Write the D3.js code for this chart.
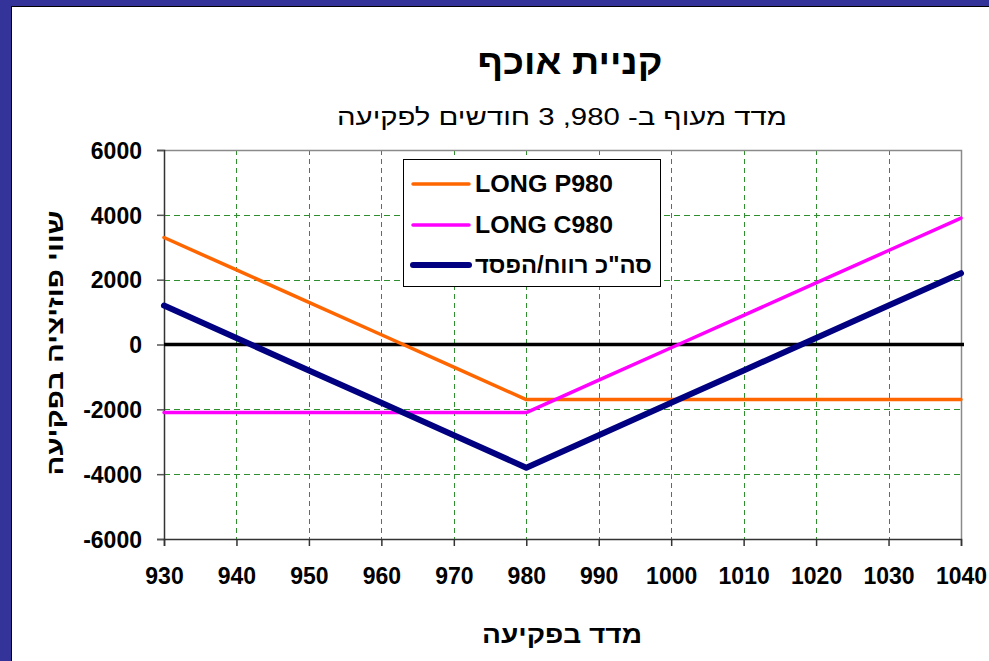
<!DOCTYPE html>
<html>
<head>
<meta charset="utf-8">
<script src="https://cdn.jsdelivr.net/npm/d3@7"></script>
<style>
  html, body { margin: 0; padding: 0; background: #fff; }
  svg { display: block; }
  text { font-family: "Liberation Sans", Arial, sans-serif; fill: #000; }
</style>
</head>
<body>
<svg id="chart" width="989" height="661"></svg>
<script>
// ---- data ----
const strikes = [930, 940, 950, 960, 970, 980, 990, 1000, 1010, 1020, 1030, 1040];
const longPut = [3300, 2300, 1300, 300, -700, -1700, -1700, -1700, -1700, -1700, -1700, -1700];
const longCall = [-2100, -2100, -2100, -2100, -2100, -2100, -1100, -100, 900, 1900, 2900, 3900];
const totalPL = [1200, 200, -800, -1800, -2800, -3800, -2800, -1800, -800, 200, 1200, 2200];
const yTicks = [-6000, -4000, -2000, 0, 2000, 4000, 6000];
const seriesNames = ["LONG P980", "LONG C980", "סה\"כ רווח/הפסד"];
const titleText = "קניית אוכף";
const subtitleText = "מדד מעוף ב- 980, 3 חודשים לפקיעה";
const xTitleText = "מדד בפקיעה";
const yTitleText = "שווי פוזיציה בפקיעה";

const svg = d3.select("#chart");
const W = 989, H = 661;
const L = 164, R = 961, T = 150, B = 539;

// frame
svg.append("rect").attr("x", 0).attr("y", 0).attr("width", W).attr("height", H).attr("fill", "#333399");
svg.append("rect").attr("x", 11).attr("y", 6).attr("width", W - 11).attr("height", H - 6).attr("fill", "#000");
svg.append("rect").attr("x", 12).attr("y", 7).attr("width", W - 12).attr("height", H - 7).attr("fill", "#fff");

const x = d3.scaleLinear().domain([930, 1040]).range([L, R]);
const y = d3.scaleLinear().domain([-6000, 6000]).range([B, T]);

// gridlines
const grid = svg.append("g").attr("shape-rendering", "crispEdges");
grid.selectAll("line.h").data(yTicks.filter(v => v !== 0 && v !== 6000 && v !== -6000)).enter()
  .append("line").attr("x1", L).attr("x2", R)
  .attr("y1", d => Math.round(y(d)) + 0.5).attr("y2", d => Math.round(y(d)) + 0.5)
  .attr("stroke", "#2f8f2f").attr("stroke-width", 1).attr("stroke-dasharray", "6,4");
grid.selectAll("line.v").data(strikes.filter(v => v !== 930 && v !== 1040)).enter()
  .append("line").attr("y1", T).attr("y2", B)
  .attr("x1", d => Math.round(x(d)) + 0.5).attr("x2", d => Math.round(x(d)) + 0.5)
  .attr("stroke", "#2f8f2f").attr("stroke-width", 1).attr("stroke-dasharray", "5,4");

// plot border (top/right grey)
svg.append("path")
  .attr("d", `M${L},${T + 0.5}H${R + 0.5}V${B}`)
  .attr("fill", "none").attr("stroke", "#8a8a8a").attr("stroke-width", 1.5);

// axes
const yAxis = d3.axisLeft(y).tickValues(yTicks).tickSize(7).tickFormat(d => String(d));
const gy = svg.append("g").attr("transform", `translate(${L},0)`).call(yAxis);
gy.select(".domain").attr("stroke", "#333").attr("stroke-width", 1.5);
gy.selectAll(".tick line").attr("stroke", "#555").attr("stroke-width", 1.5);
gy.selectAll(".tick text").attr("x", -22).attr("dy", "0.36em")
  .style("font-size", "23px").style("font-weight", "bold").style("font-family", "'Liberation Sans', Arial, sans-serif").attr("fill", "#000");

const xAxis = d3.axisBottom(x).tickValues(strikes).tickSize(7).tickFormat(d => String(d));
const gx = svg.append("g").attr("transform", `translate(0,${B})`).call(xAxis);
gx.select(".domain").attr("stroke", "#333").attr("stroke-width", 1.5);
gx.selectAll(".tick line").attr("stroke", "#333").attr("stroke-width", 1.5);
gx.selectAll(".tick text").attr("y", 29).attr("dy", "0.71em")
  .style("font-size", "23px").style("font-weight", "bold").style("font-family", "'Liberation Sans', Arial, sans-serif").attr("fill", "#000");

// zero line
svg.append("line").attr("x1", L).attr("x2", R + 3).attr("y1", y(0)).attr("y2", y(0))
  .attr("stroke", "#000").attr("stroke-width", 3.5);

// series
const line = d3.line().x((d, i) => x(strikes[i])).y(d => y(d));
const series = [
  { vals: longPut, color: "#ff6600", w: 3.5 },
  { vals: longCall, color: "#ff00ff", w: 3.5 },
  { vals: totalPL, color: "#000080", w: 6 }
];
series.forEach(s => {
  svg.append("path").datum(s.vals).attr("d", line)
    .attr("fill", "none").attr("stroke", s.color).attr("stroke-width", s.w)
    .attr("stroke-linejoin", "round").attr("stroke-linecap", "round");
});

// legend
const lg = svg.append("g");
lg.append("rect").attr("x", 403.5).attr("y", 159.5).attr("width", 257).attr("height", 127)
  .attr("fill", "#fff").attr("stroke", "#000").attr("stroke-width", 1);
const rowsY = [184, 225, 265];
const legendLens = [138, 138, 177];
series.forEach((s, i) => {
  lg.append("line").attr("x1", 413).attr("x2", 469).attr("y1", rowsY[i]).attr("y2", rowsY[i])
    .attr("stroke", s.color).attr("stroke-width", s.w).attr("stroke-linecap", "round");
  lg.append("text").attr("x", 475).attr("y", rowsY[i] + 8)
    .attr("textLength", legendLens[i]).attr("lengthAdjust", "spacingAndGlyphs")
    .style("font-size", "23px").style("font-weight", "bold")
    .text(seriesNames[i]);
});

// titles
svg.append("text").attr("x", 570).attr("y", 74).attr("text-anchor", "middle")
  .attr("textLength", 185).attr("lengthAdjust", "spacingAndGlyphs")
  .style("font-size", "35px").style("font-weight", "bold").text(titleText);
svg.append("text").attr("x", 562).attr("y", 125).attr("text-anchor", "middle")
  .attr("textLength", 450).attr("lengthAdjust", "spacingAndGlyphs")
  .style("font-size", "24px").text(subtitleText);
svg.append("text").attr("x", 562).attr("y", 643).attr("text-anchor", "middle")
  .attr("textLength", 160).attr("lengthAdjust", "spacingAndGlyphs")
  .style("font-size", "24px").style("font-weight", "bold").text(xTitleText);
svg.append("text").attr("transform", "translate(63,343) rotate(-90)").attr("text-anchor", "middle")
  .attr("textLength", 265).attr("lengthAdjust", "spacingAndGlyphs")
  .style("font-size", "23px").style("font-weight", "bold").text(yTitleText);
</script>
</body>
</html>
